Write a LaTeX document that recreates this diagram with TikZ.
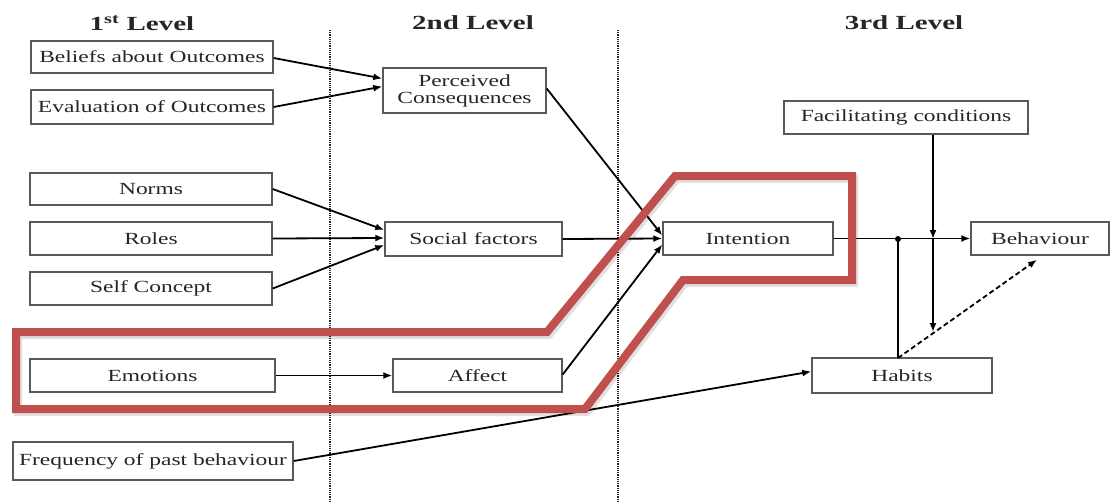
\documentclass[tikz,border=0pt]{standalone}
\usepackage{fontspec}
\setmainfont{Liberation Serif}[FakeStretch=1.38]
\newfontfamily\hdfont{Liberation Serif}[FakeStretch=1.45]
\usetikzlibrary{arrows.meta,calc}
\definecolor{hlred}{HTML}{C0504D}
\begin{document}
\begin{tikzpicture}[x=1pt,y=-1pt,
 box/.style={draw=black!65, line width=1.4pt, fill=white, inner sep=0pt, text=black!85, font=\fontsize{17}{17}\selectfont, align=center},
 arr/.style={line width=1.8pt, -{Latex[length=9pt,width=7pt]}},
 ln/.style={line width=1.8pt},
 darr/.style={line width=1.8pt, dash pattern=on 5pt off 3pt, -{Latex[length=9pt,width=7pt]}},
 hdr/.style={font=\hdfont\bfseries\fontsize{20}{22}\selectfont, text=black!85},
 sep/.style={line width=2.4pt, dash pattern=on 1.2pt off 1pt, black!85},
 hl/.style={draw=hlred, line width=8pt, line join=miter}]
\useasboundingbox (0,0) rectangle (1111,501);
\fill[white] (0,0) rectangle (1111,501);

% headers
\node[hdr] (h1) at (142,23) {1\textsuperscript{st} Level};
\node[hdr] (h2) at (473,23) {2nd Level};
\node[hdr] (h3) at (904,23) {3rd Level};

% separators
\coordinate (s1t) at (330,30); \coordinate (s1b) at (330,501);
\coordinate (s2t) at (618,30); \coordinate (s2b) at (618,501);
\draw[sep] (s1t) -- (s1b);
\draw[sep] (s2t) -- (s2b);

% boxes
\node[box, minimum width=242pt, minimum height=32pt] (bel) at (152,57) {Beliefs about Outcomes};
\node[box, minimum width=242pt, minimum height=34pt] (eva) at (152,107) {Evaluation of Outcomes};
\node[box, minimum width=163pt, minimum height=45pt] (pc) at (464.5,90.5) {Perceived\\Consequences};
\node[box, minimum width=242pt, minimum height=32pt] (nor) at (151,189) {Norms};
\node[box, minimum width=242pt, minimum height=33pt] (rol) at (151,238.5) {Roles};
\node[box, minimum width=242pt, minimum height=33pt] (sel) at (151,288.5) {Self Concept};
\node[box, minimum width=177pt, minimum height=34pt] (soc) at (473.5,239) {Social factors};
\node[box, minimum width=170pt, minimum height=33pt] (int) at (748,238.5) {Intention};
\node[box, minimum width=244pt, minimum height=33pt] (fac) at (906,117.5) {Facilitating conditions};
\node[box, minimum width=138pt, minimum height=33pt] (beh) at (1040,238.5) {Behaviour};
\node[box, minimum width=245pt, minimum height=33pt] (emo) at (152.5,375.5) {Emotions};
\node[box, minimum width=169pt, minimum height=33pt] (aff) at (477.5,375.5) {Affect};
\node[box, minimum width=180pt, minimum height=35pt] (hab) at (902,375.5) {Habits};
\node[box, minimum width=280pt, minimum height=38pt] (fre) at (153,461) {Frequency of past behaviour};

% connectors
\draw[arr] ([yshift=-1pt]bel.east) -- ([yshift=12pt]pc.west);
\draw[arr] (eva.east) -- ([yshift=4pt]pc.west);
\draw[arr] ([yshift=2pt]pc.east) -- ([yshift=3pt]int.west);
\draw[arr] (nor.east) -- ([yshift=9pt]soc.west);
\draw[arr] (rol.east) -- ([yshift=1pt]soc.west);
\draw[arr] (sel.east) -- ([yshift=-6pt]soc.west);
\draw[arr] (soc.east) -- (int.west);
\draw[arr] ([yshift=1pt]aff.east) -- ([yshift=-6pt]int.west);
\draw[arr] (emo.east) -- (aff.west);
\draw[arr] (int.east) -- (beh.west);
\draw[arr] (fre.east) -- ([yshift=4pt]hab.west);

\coordinate (hj) at (898,239);
\coordinate (fj) at (933,239);
\coordinate (fe) at (933,332);
\coordinate (ht) at (898,358);
\draw[ln] (ht) -- (hj);
\fill (hj) circle (3pt);
\draw[arr] (fac.south -| fj) -- (fj);
\draw[arr] (fj) -- (fe);
\draw[darr] (ht) -- ([xshift=-3pt,yshift=-4pt]beh.south);

% highlight
\draw[line width=8pt, black, opacity=0.12, line join=miter, shift={(2,3)}] (16,332) -- (547,332) -- (675,176) -- (852,176) -- (852,280) -- (683,280) -- (585,409) -- (16,409) -- cycle;
\draw[hl] (16,332) -- (547,332) -- (675,176) -- (852,176) -- (852,280) -- (683,280) -- (585,409) -- (16,409) -- cycle;
\end{tikzpicture}
\end{document}
